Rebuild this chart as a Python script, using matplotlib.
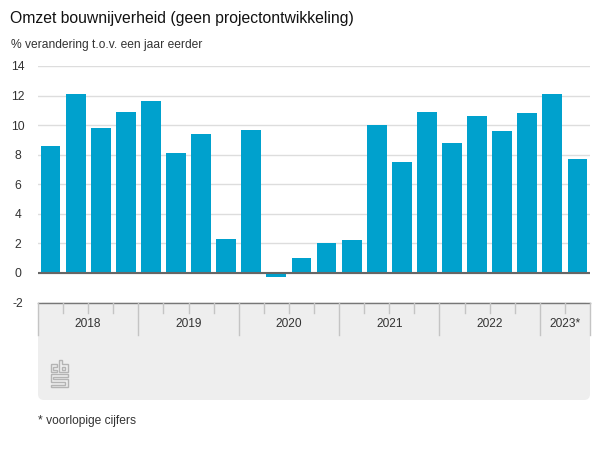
import matplotlib
matplotlib.use("Agg")
import matplotlib.pyplot as plt
from matplotlib.patches import FancyBboxPatch, PathPatch, Rectangle
from matplotlib.path import Path

plt.rcParams['font.family'] = ['Liberation Sans', 'DejaVu Sans']
plt.rcParams['axes.unicode_minus'] = False

values = [8.6, 12.1, 9.8, 10.9, 11.6, 8.1, 9.4, 2.3, 9.7, -0.3, 1.0,
          2.0, 2.2, 10.0, 7.5, 10.9, 8.8, 10.6, 9.6, 10.8, 12.1, 7.7]
years = ['2018', '2019', '2020', '2021', '2022', '2023*']
quarters_per_year = [4, 4, 4, 4, 4, 2]
yticks = [-2, 0, 2, 4, 6, 8, 10, 12, 14]
title = 'Omzet bouwnijverheid (geen projectontwikkeling)'
subtitle = '% verandering t.o.v. een jaar eerder'
footnote = '* voorlopige cijfers'

W, H = 600, 450
fig = plt.figure(figsize=(W / 100, H / 100), dpi=100, facecolor='white')

def fx(px): return px / W
def fy(py): return 1 - py / H

L, R = 38, 590
TOP, BOT = 66, 302.5

# grey panel under the chart
bg = fig.add_axes([0, 0, 1, 1], zorder=0)
bg.set_xlim(0, W); bg.set_ylim(H, 0); bg.axis('off')
bg.add_patch(FancyBboxPatch((L + 5, BOT + 5), R - L - 10, 400 - BOT - 10,
                            boxstyle='round,pad=5,rounding_size=6', fc='#eeeeee', ec='none'))
bg.add_patch(Rectangle((L, BOT), R - L, 20, fc='#eeeeee', ec='none'))

# cbs logo
logo = '#b4b4b4'
segs = [
    [(50.5, 364), (50.5, 372), (57, 372), (57, 369.5), (53, 369.5), (53, 366.5), (57, 366.5), (57, 364), (50.5, 364)],
    [(59, 359.5), (59, 372), (67.5, 372), (67.5, 364), (61.5, 364), (61.5, 359.5), (59, 359.5)],
    [(61.5, 366.5), (65, 366.5), (65, 369.5), (61.5, 369.5), (61.5, 366.5)],
    [(50.5, 374), (67.5, 374), (67.5, 376.5), (53, 376.5), (53, 379), (67.5, 379), (67.5, 387), (50.5, 387),
     (50.5, 384.5), (65, 384.5), (65, 381.5), (50.5, 381.5), (50.5, 374)],
]
for s in segs:
    bg.add_patch(PathPatch(Path(s), fc='none', ec=logo, lw=1.0))

# main chart
ax = fig.add_axes([fx(L), fy(BOT), (R - L) / W, (BOT - TOP) / H], zorder=1)
ax.patch.set_alpha(0)
ax.set_xlim(-0.5, len(values) - 0.5)
ax.set_ylim(-2, 14)
ax.set_yticks(yticks)
ax.set_xticks([])
ax.tick_params(axis='y', length=0, labelsize=8.7, labelcolor='#333333', pad=14.5)
for lab in ax.get_yticklabels():
    lab.set_ha('center')
for sp in ax.spines.values():
    sp.set_visible(False)
ax.yaxis.grid(True, color='#dddddd', lw=1)
ax.set_axisbelow(True)
ax.bar(range(len(values)), values, width=0.79, color='#00a1cd', zorder=2)
ax.axhline(0, color='#666666', lw=1.5, zorder=3)
ax.axhline(-2, color='#777777', lw=1.0, zorder=3, clip_on=False)

# time axis below the chart
tx = fig.add_axes([fx(L), fy(335), (R - L) / W, (335 - BOT) / H], zorder=2)
tx.set_xlim(-0.5, len(values) - 0.5)
tx.set_ylim(335 - BOT, 0)
tx.axis('off')
pos = -0.5
tx.plot([pos, pos], [0, 32], color='#c4c4c4', lw=1, clip_on=False)
for year, n in zip(years, quarters_per_year):
    for q in range(1, n):
        tx.plot([pos + q, pos + q], [0, 10], color='#c4c4c4', lw=1)
    tx.text(pos + n / 2, 21.5, year, ha='center', va='center', fontsize=8.6, color='#333333')
    pos += n
    tx.plot([pos, pos], [0, 32], color='#c4c4c4', lw=1, clip_on=False)

fig.text(fx(10), fy(18), title, fontsize=11.3, color='#111111', va='center', ha='left')
fig.text(fx(11), fy(45), subtitle, fontsize=8.65, color='#333333', va='center', ha='left')
fig.text(fx(38), fy(421), footnote, fontsize=8.65, color='#333333', va='center', ha='left')

fig.savefig('out.png', dpi=100, facecolor='white')
